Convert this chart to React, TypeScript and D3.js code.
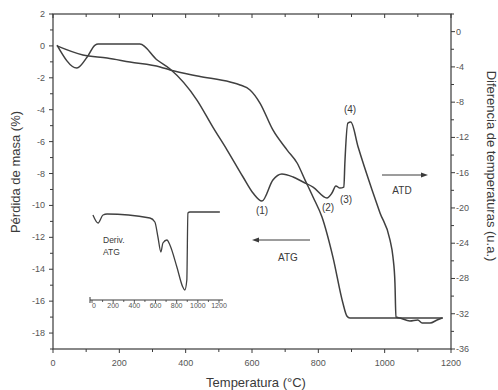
import React from "react";
import * as d3 from "d3";

// ATG: mass loss (%) vs temperature (left axis)
const atgT = [12, 90, 163, 232, 323, 353, 440, 534, 564, 594, 624, 663, 706, 736, 760, 784, 811, 844, 874, 886, 895, 1176];
const atgV = [0, -0.57, -0.76, -1.01, -1.32, -1.51, -1.9, -2.26, -2.45, -2.76, -3.58, -5.27, -6.53, -7.34, -8.41, -9.47, -10.73, -13.24, -16.12, -16.93, -17.06, -17.06];

// ATD: temperature difference (u.a.) vs temperature (right axis)
const atdT = [12, 72, 103, 127, 136, 262, 314, 353, 434, 482, 525, 573, 603, 630, 663, 690, 724, 754, 784, 826, 841, 853, 865, 877, 880, 889, 898, 920, 962, 986, 1016, 1025, 1031, 1034, 1046, 1076, 1100, 1113, 1137, 1158, 1173];
const atdV = [-1.52, -4.13, -2.88, -1.52, -1.41, -1.41, -3.22, -4.24, -7.76, -10.83, -13.43, -16.49, -18.31, -19.22, -16.83, -16.15, -16.49, -17.06, -17.63, -18.87, -18.31, -17.51, -17.74, -17.63, -14.9, -10.37, -10.25, -13.09, -17.96, -20.57, -23.63, -25.56, -28.51, -32.37, -32.48, -32.82, -32.71, -33.05, -33.05, -32.71, -32.48];

// Inset: derivative of ATG
const derT = [9, 57, 104, 142, 547, 594, 623, 651, 670, 708, 736, 802, 858, 877, 896, 906, 925, 1208];
const derV = [-0.2, -1.0, -0.2, -0.1, -0.5, -0.9, -2.4, -3.9, -3.0, -2.7, -3.2, -5.4, -7.4, -7.7, -6.7, 0, 0.1, 0.1];

const xTicks = [0, 200, 400, 600, 800, 1000, 1200];
const leftTicks = [2, 0, -2, -4, -6, -8, -10, -12, -14, -16, -18];
const rightTicks = [0, -4, -8, -12, -16, -20, -24, -28, -32, -36];
const insetTicks = [0, 200, 400, 600, 800, 1000, 1200];

const peakLabels = [
  { t: "(1)", T: 630, v: -19.22 },
  { t: "(2)", T: 826, v: -18.87 },
  { t: "(3)", T: 862, v: -17.6 },
  { t: "(4)", T: 898, v: -10.25 },
];

const FONT = "'Liberation Sans', Arial, sans-serif";
const INK = "#3a3a3a";

export default function App() {
  const W = 498, H = 390;
  const L = 53, R = 451, T = 14, B = 349;
  const x = d3.scaleLinear().domain([0, 1200]).range([L, R]);
  const yL = d3.scaleLinear().domain([-19, 2]).range([B, T]);
  const yR = d3.scaleLinear().domain([-36, 2]).range([B, T]);

  const xi = d3.scaleLinear().domain([0, 1200]).range([92, 219]);
  const yi = d3.scaleLinear().domain([-8, 0]).range([293, 213]);

  const lineL = d3.line<number>().x((_, i) => x(atgT[i])).y((d) => yL(d)).curve(d3.curveMonotoneX);
  const lineR = d3.line<number>().x((_, i) => x(atdT[i])).y((d) => yR(d)).curve(d3.curveMonotoneX);
  const lineI = d3.line<number>().x((_, i) => xi(derT[i])).y((d) => yi(d)).curve(d3.curveMonotoneX);

  const xMinor = d3.range(0, 1201, 100);
  const lMinor = d3.range(-19, 2.01, 1);
  const rMinor = d3.range(-36, 2.01, 2);
  const iMinor = d3.range(0, 1201, 100);

  const labelY = {
    "(1)": 214, "(2)": 211, "(3)": 203, "(4)": 113,
  } as Record<string, number>;
  const labelX = {
    "(1)": 262, "(2)": 328, "(3)": 346, "(4)": 350,
  } as Record<string, number>;

  return (
    <svg width={W} height={H} style={{ position: "absolute", left: 0, top: 0, background: "#fff" }} fontFamily={FONT}>
      <rect x={0} y={0} width={W} height={H} fill="#fff" />
      {/* frame */}
      <rect x={L} y={T} width={R - L} height={B - T} fill="none" stroke={INK} strokeWidth={1.2} />

      {/* bottom axis ticks */}
      {xMinor.map((v) => (
        <line key={"bx" + v} x1={x(v)} x2={x(v)} y1={B} y2={B + (v % 200 === 0 ? 4 : 3)} stroke={INK} strokeWidth={1} />
      ))}
      {xMinor.map((v) => (
        <line key={"tx" + v} x1={x(v)} x2={x(v)} y1={T} y2={T + (v % 200 === 0 ? 4 : 3)} stroke={INK} strokeWidth={1} />
      ))}
      {xTicks.map((v) => (
        <text key={"xl" + v} x={x(v)} y={366} fontSize={9} fill="#555" textAnchor="middle">{String(v)}</text>
      ))}

      {/* left axis */}
      {lMinor.map((v) => (
        <line key={"ly" + v} x1={L} x2={L - (Math.abs(v) % 2 === 0 ? 4 : 3)} y1={yL(v)} y2={yL(v)} stroke={INK} strokeWidth={1} />
      ))}
      {leftTicks.map((v) => (
        <text key={"ll" + v} x={45} y={yL(v) + 3} fontSize={9} fill="#555" textAnchor="end">{String(v)}</text>
      ))}

      {/* right axis */}
      {rMinor.map((v) => (
        <line key={"ry" + v} x1={R} x2={R + (Math.abs(v) % 4 === 0 ? 4 : 3)} y1={yR(v)} y2={yR(v)} stroke={INK} strokeWidth={1} />
      ))}
      {rightTicks.map((v) => (
        <text key={"rl" + v} x={456} y={yR(v) + 3} fontSize={9} fill="#555" textAnchor="start">{String(v)}</text>
      ))}

      {/* titles */}
      <text x={256} y={387} fontSize={13} fill={INK} textAnchor="middle">Temperatura (°C)</text>
      <text transform={`translate(20,172) rotate(-90)`} fontSize={13} fill={INK} textAnchor="middle">Pérdida de masa (%)</text>
      <text transform={`translate(487,166) rotate(90)`} fontSize={13} fill={INK} textAnchor="middle">Diferencia de temperaturas (u.a.)</text>

      {/* curves */}
      <path d={lineL(atgV) || ""} fill="none" stroke="#404040" strokeWidth={1.5} />
      <path d={lineR(atdV) || ""} fill="none" stroke="#404040" strokeWidth={1.5} />

      {/* peak labels */}
      {peakLabels.map((p) => (
        <text key={p.t} x={labelX[p.t]} y={labelY[p.t]} fontSize={10} fill={INK} textAnchor="middle">{p.t}</text>
      ))}

      {/* ATD arrow */}
      <line x1={382} x2={424} y1={175} y2={175} stroke={INK} strokeWidth={1} />
      <polygon points="428,175 421,172.5 421,177.5" fill={INK} />
      <text x={402} y={194} fontSize={10} fill={INK} textAnchor="middle">ATD</text>

      {/* ATG arrow */}
      <line x1={310} x2={257} y1={240} y2={240} stroke={INK} strokeWidth={1} />
      <polygon points="252,240 259,237.5 259,242.5" fill={INK} />
      <text x={288} y={261} fontSize={10} fill={INK} textAnchor="middle">ATG</text>

      {/* inset */}
      <path d={lineI(derV) || ""} fill="none" stroke="#404040" strokeWidth={1.3} />
      <line x1={90} x2={223} y1={300} y2={300} stroke={INK} strokeWidth={1} />
      <line x1={90} x2={90} y1={297} y2={303} stroke={INK} strokeWidth={1} />
      {iMinor.map((v) => (
        <line key={"ix" + v} x1={xi(v)} x2={xi(v)} y1={300} y2={v % 200 === 0 ? 303 : 302} stroke={INK} strokeWidth={0.8} />
      ))}
      {insetTicks.map((v) => (
        <text key={"il" + v} x={xi(v) + (v === 0 ? 2 : 0)} y={308} fontSize={7} fill="#555" textAnchor="middle">{String(v)}</text>
      ))}
      <text x={103} y={243} fontSize={8.5} fill={INK}>Deriv.</text>
      <text x={103} y={255} fontSize={8.5} fill={INK}>ATG</text>
    </svg>
  );
}
